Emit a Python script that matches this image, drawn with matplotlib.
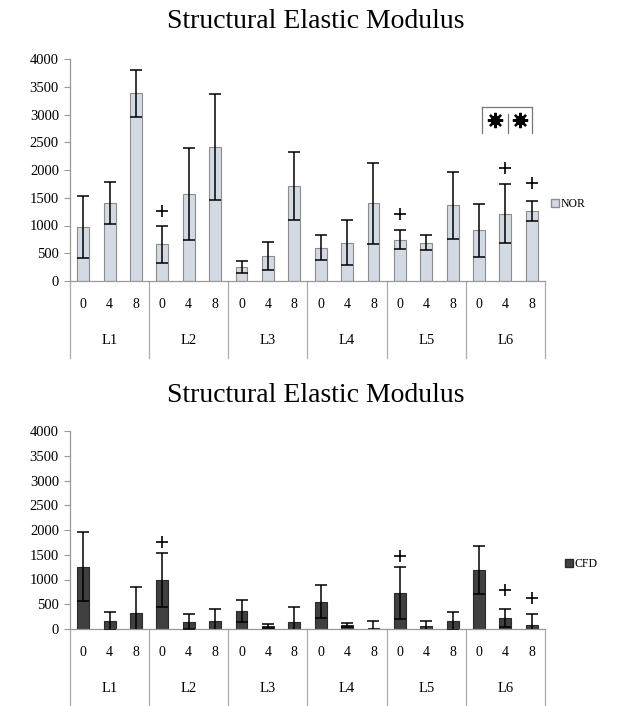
import numpy as np
import matplotlib
matplotlib.use("Agg")
import matplotlib.pyplot as plt
from matplotlib.patches import Patch

plt.rcParams['font.family'] = ['Liberation Serif', 'DejaVu Serif']

levels = ["L1", "L2", "L3", "L4", "L5", "L6"]
weeks = ["0", "4", "8"]

# NOR (top panel)
nor_mean = [970, 1405, 3380, 660, 1575, 2415, 252, 445, 1706,
            602, 692, 1405, 746, 692, 1364, 913, 1214, 1261]
nor_sd = [560, 380, 430, 340, 830, 950, 100, 250, 610,
          220, 400, 730, 170, 130, 600, 480, 530, 175]
nor_plus = [None, None, None, 1256, None, None, None, None, None,
            None, None, None, 1214, None, None, None, 2043, 1773]

# CFD (bottom panel)
cfd_mean = [1260, 162, 316, 990, 148, 162, 364, 60, 148,
            552, 80, 30, 734, 60, 168, 1192, 216, 80]
cfd_sd = [700, 190, 525, 540, 155, 236, 222, 40, 303,
          337, 40, 125, 525, 95, 182, 485, 182, 223]
cfd_plus = [None, None, None, 1750, None, None, None, None, None,
            None, None, None, 1475, None, None, None, 788, 620]

# significance bracket over L6 wk4 / wk8
sig_top = 3135
sig_bottom = 2660
sig_star = 2896

W, H = 617, 706
fig = plt.figure(figsize=(W / 100, H / 100), dpi=100)


def panel(rect, mean, sd, plus, color, edge, label, leg_xy, title, title_y):
    ax = fig.add_axes(rect)
    x = np.arange(len(mean)) + 0.5
    ax.bar(x, mean, width=0.45, color=color, edgecolor=edge, linewidth=0.8, zorder=2)
    ax.errorbar(x, mean, yerr=sd, fmt='none', ecolor='black', elinewidth=1.1,
                capsize=4, capthick=1.1, zorder=3)
    px = [xi for xi, p in zip(x, plus) if p is not None]
    py = [p for p in plus if p is not None]
    ax.plot(px, py, '+', color='black', markersize=9, mew=1.2, zorder=4)

    ax.set_xlim(0, len(mean))
    ax.set_ylim(0, 4000)
    ax.set_yticks(np.arange(0, 4001, 500))
    ax.tick_params(axis='y', labelsize=10.5, length=4, color='#999999', pad=4)
    ax.set_xticks(x)
    ax.set_xticklabels(weeks * len(levels), fontsize=10)
    ax.tick_params(axis='x', length=0, pad=12)
    for s in ['top', 'right']:
        ax.spines[s].set_visible(False)
    for s in ['left', 'bottom']:
        ax.spines[s].set_color('#999999')
        ax.spines[s].set_linewidth(0.9)

    # multi-level category box below the axis
    h_px = rect[3] * H
    drop = 77 / h_px
    for g in range(len(levels) + 1):
        ax.plot([g * 3, g * 3], [0, -drop], color='#aaaaaa', lw=0.9,
                transform=ax.get_xaxis_transform(), clip_on=False)
    for g, name in enumerate(levels):
        ax.text(g * 3 + 1.5, -59 / h_px, name, ha='center', va='center', fontsize=10.5,
                transform=ax.get_xaxis_transform())

    ax.legend(handles=[Patch(facecolor=color, edgecolor=edge, label=label)],
              loc='center left', bbox_to_anchor=leg_xy, frameon=False,
              fontsize=8.5, handlelength=0.7, handleheight=0.7, handletextpad=0.1,
              borderpad=0)
    fig.text(0.512, title_y, title, ha='center', va='center', fontsize=20)
    return ax, x


ax1, x1 = panel([70 / W, 1 - 281 / H, 475 / W, 222 / H], nor_mean, nor_sd, nor_plus,
                '#d3dae3', '#8c8c8c', 'NOR', (1.0, 0.347),
                'Structural Elastic Modulus', 1 - 22 / H)

# bracket with stars
bl, bm, br = x1[16] - 0.9, x1[16] + 0.08, x1[17]
ax1.plot([bl, br], [sig_top, sig_top], color='#777777', lw=0.9)
for bx in (bl, br):
    ax1.plot([bx, bx], [sig_top, sig_bottom], color='#777777', lw=0.9)
ax1.plot([bm, bm], [sig_top - 120, sig_bottom], color='#777777', lw=0.9)
star_x = [(bl + bm) / 2, (bm + br) / 2]
ax1.plot(star_x, [sig_star] * 2, 'o', color='black', markersize=6)
ax1.plot(star_x, [sig_star] * 2, marker=(8, 2, 0), ls='none', color='black',
         markersize=11, mew=1.6)

ax2, x2 = panel([70 / W, 1 - 629 / H, 475 / W, 198 / H], cfd_mean, cfd_sd, cfd_plus,
                '#404040', '#2a2a2a', 'CFD', (1.03, 0.328),
                'Structural Elastic Modulus', 1 - 396 / H)

fig.savefig('out.png', dpi=100)
